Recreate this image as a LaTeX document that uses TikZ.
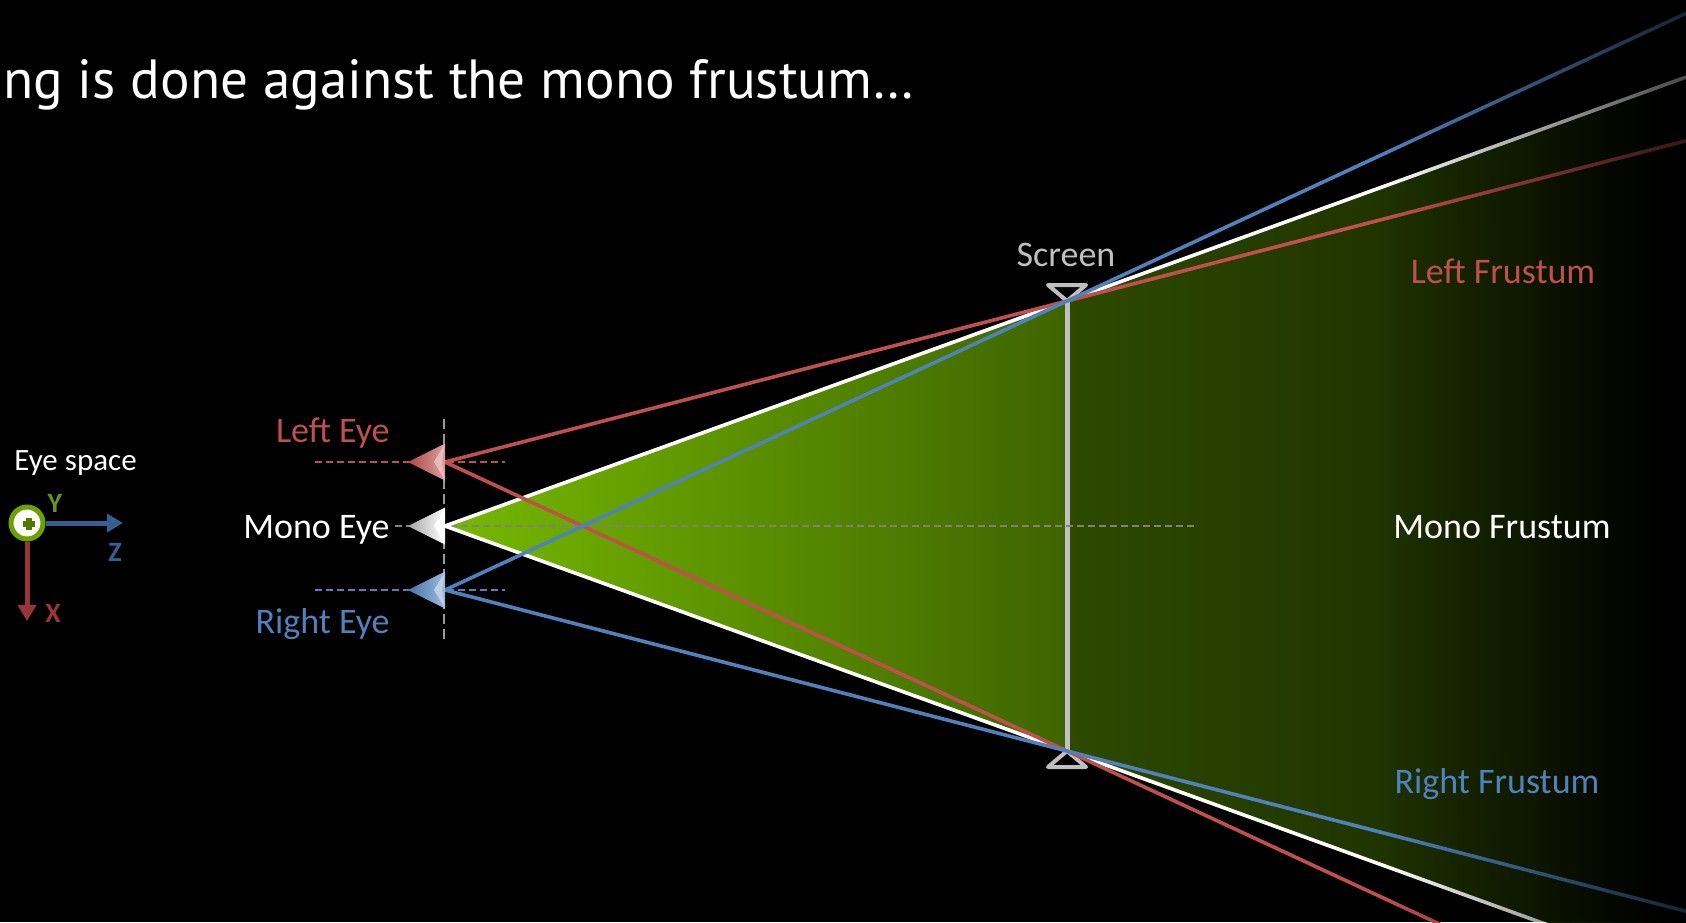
\documentclass[tikz,border=0pt]{standalone}
\usepackage{fontspec}
\usepackage{graphicx}
\setmainfont{Carlito}
\newfontfamily\titlefont{PT Sans}
\usetikzlibrary{calc,fadings,arrows.meta}
\definecolor{nvgreen}{RGB}{118,185,0}
\definecolor{gmid}{RGB}{62,100,0}
\definecolor{gA}{RGB}{45,74,0}
\definecolor{gB}{RGB}{32,52,0}
\definecolor{gC}{RGB}{22,36,0}
\definecolor{redL}{RGB}{192,80,77}
\definecolor{blueL}{RGB}{79,129,189}
\definecolor{axred}{RGB}{149,55,53}
\definecolor{axblue}{RGB}{55,96,146}
\definecolor{axgreen}{RGB}{110,160,0}
\definecolor{ygreen}{RGB}{100,150,20}
\definecolor{scrgray}{RGB}{191,191,191}
\pgfdeclarehorizontalshading{leftfill}{100bp}{color(0bp)=(nvgreen); color(25bp)=(nvgreen); color(75bp)=(gmid); color(100bp)=(gmid)}
\pgfdeclarehorizontalshading{rightfill}{100bp}{color(0bp)=(gA); color(25bp)=(gA); color(50.3bp)=(gB); color(62.6bp)=(gC); color(75bp)=(black); color(100bp)=(black)}
\tikzfading[name=fadeR, left color=transparent!100, right color=transparent!28]
\newcommand\eyeHead[3]{%
  \shade[left color=#2, right color=#3] ($(#1)+(-37,0)$) -- ($(#1)+(0,-18.5)$) -- ($(#1)+(0,18.5)$) -- cycle;
  \fill[#3!70!white] ($(#1)+(0,-18.5)$) -- ($(#1)+(-11,0)$) -- ($(#1)+(0,18.5)$) -- ($(#1)+(-3,0)$) -- cycle;
}
\begin{document}
\begin{tikzpicture}[x=0.5pt,y=-0.5pt,
  lbl/.style={inner sep=0pt, font=\fontsize{18}{20}\selectfont},
  axl/.style={inner sep=0pt, font=\bfseries\fontsize{14}{16}\selectfont},
  fl/.style={line width=1.8pt},
  eyedash/.style={line width=1pt, dash pattern=on 3.5pt off 2pt}]
\fill[black] (0,0) rectangle (1686,922);
\useasboundingbox (0,0) rectangle (1686,922);
\clip (0,0) rectangle (1686,922);
% key points
\coordinate (LE) at (445,462);
\coordinate (ME) at (445,526);
\coordinate (RE) at (445,590);
\coordinate (ST) at (1067,301);
\coordinate (SB) at (1067,751);
\coordinate (MTfar) at ($(ME)!1.9952!(ST)$);
\coordinate (MBfar) at ($(ME)!1.9952!(SB)$);
\coordinate (LTfar) at ($(LE)!2.3!(ST)$);
\coordinate (LBfar) at ($(LE)!2.3!(SB)$);
\coordinate (RTfar) at ($(RE)!2.3!(ST)$);
\coordinate (RBfar) at ($(RE)!2.3!(SB)$);
% mono frustum fill
\shade[shading=leftfill] (ME) -- (ST) -- (SB) -- cycle;
\shade[shading=rightfill] (ST) -- (MTfar) -- (MBfar) -- (SB) -- cycle;
% screen
\draw[scrgray, line width=2.5pt] (ST) -- (SB);
\draw[scrgray, line width=2pt, line join=round, fill=black] (1048,285) -- (1086,285) -- (ST) -- cycle;
\draw[scrgray, line width=2pt, line join=round, fill=black] (1048,767) -- (1086,767) -- (SB) -- cycle;
% eye plane and axes dashes
\coordinate (VPt) at (444,419);
\coordinate (VPb) at (444,640);
\draw[gray!80, line width=1pt, dash pattern=on 5pt off 2.5pt] (VPt) -- (VPb);
\coordinate (LEa) at (315,462); \coordinate (LEb) at (505,462);
\coordinate (REa) at (315,590); \coordinate (REb) at (505,590);
\coordinate (MEa) at (395,526); \coordinate (MEb) at (1195,526);
\draw[redL, eyedash] (LEa) -- (LEb);
\draw[blueL, eyedash] (REa) -- (REb);
\draw[gray, line width=1.3pt, dash pattern=on 3.5pt off 2pt] (MEa) -- (MEb);
% frustum lines
\draw[white, fl] (ME) -- (MTfar);
\draw[white, fl] (ME) -- (MBfar);
\draw[redL, fl] (LE) -- (LTfar);
\draw[redL, fl] (LE) -- (LBfar);
\draw[blueL, fl] (RE) -- (RTfar);
\draw[blueL, fl] (RE) -- (RBfar);
% fade out to the right
\fill[black, path fading=fadeR] (1380,0) rectangle (1686,922);
% eye heads
\eyeHead{LE}{redL!90!black}{redL!55!white}
\eyeHead{ME}{gray!70!white}{white}
\eyeHead{RE}{blueL!90!black}{blueL!55!white}
% labels
\node[lbl, anchor=base east, text=redL] (tLE) at (390,442) {Left Eye};
\node[lbl, anchor=base east, text=white] (tME) at (390,538) {Mono Eye};
\node[lbl, anchor=base east, text=blueL] (tRE) at (390,633) {Right Eye};
\node[lbl, anchor=base, text=scrgray] (tS) at (1066,266) {Screen};
\node[lbl, anchor=base, text=redL] (tLF) at (1503,283) {Left Frustum};
\node[lbl, anchor=base, text=white] (tMF) at (1502,538) {Mono Frustum};
\node[lbl, anchor=base, text=blueL] (tRF) at (1497,793) {Right Frustum};
% eye space axes
\node[inner sep=0pt, anchor=base west, text=white, font=\fontsize{15.5}{17}\selectfont] (tES) at (14,470) {Eye space};
\node[circle, draw=axgreen, line width=2.5pt, fill=white, minimum size=16pt, inner sep=0pt] (axo) at (27,523) {};
\fill[axgreen!75!black] (26,518) rectangle (32,530);
\fill[axgreen!75!black] (23,521) rectangle (35,527);
\coordinate (zt) at (123,523);
\coordinate (xt) at (27,621);
\draw[axblue, line width=2.5pt, -{Triangle[length=8pt,width=9pt]}] (axo) -- (zt);
\draw[axred, line width=2.5pt, -{Triangle[length=8pt,width=9pt]}] (axo) -- (xt);
\node[axl, text=ygreen] (ly) at (55,503) {Y};
\node[axl, text=axblue] (lz) at (115,552) {Z};
\node[axl, text=axred] (lx) at (53,613) {X};
% title
\node[inner sep=0pt, anchor=base west, text=white, font=\titlefont\fontsize{27.6}{32}\selectfont] (title) at (3,98) {ng is done against the mono frustum…};
\end{tikzpicture}
\end{document}
